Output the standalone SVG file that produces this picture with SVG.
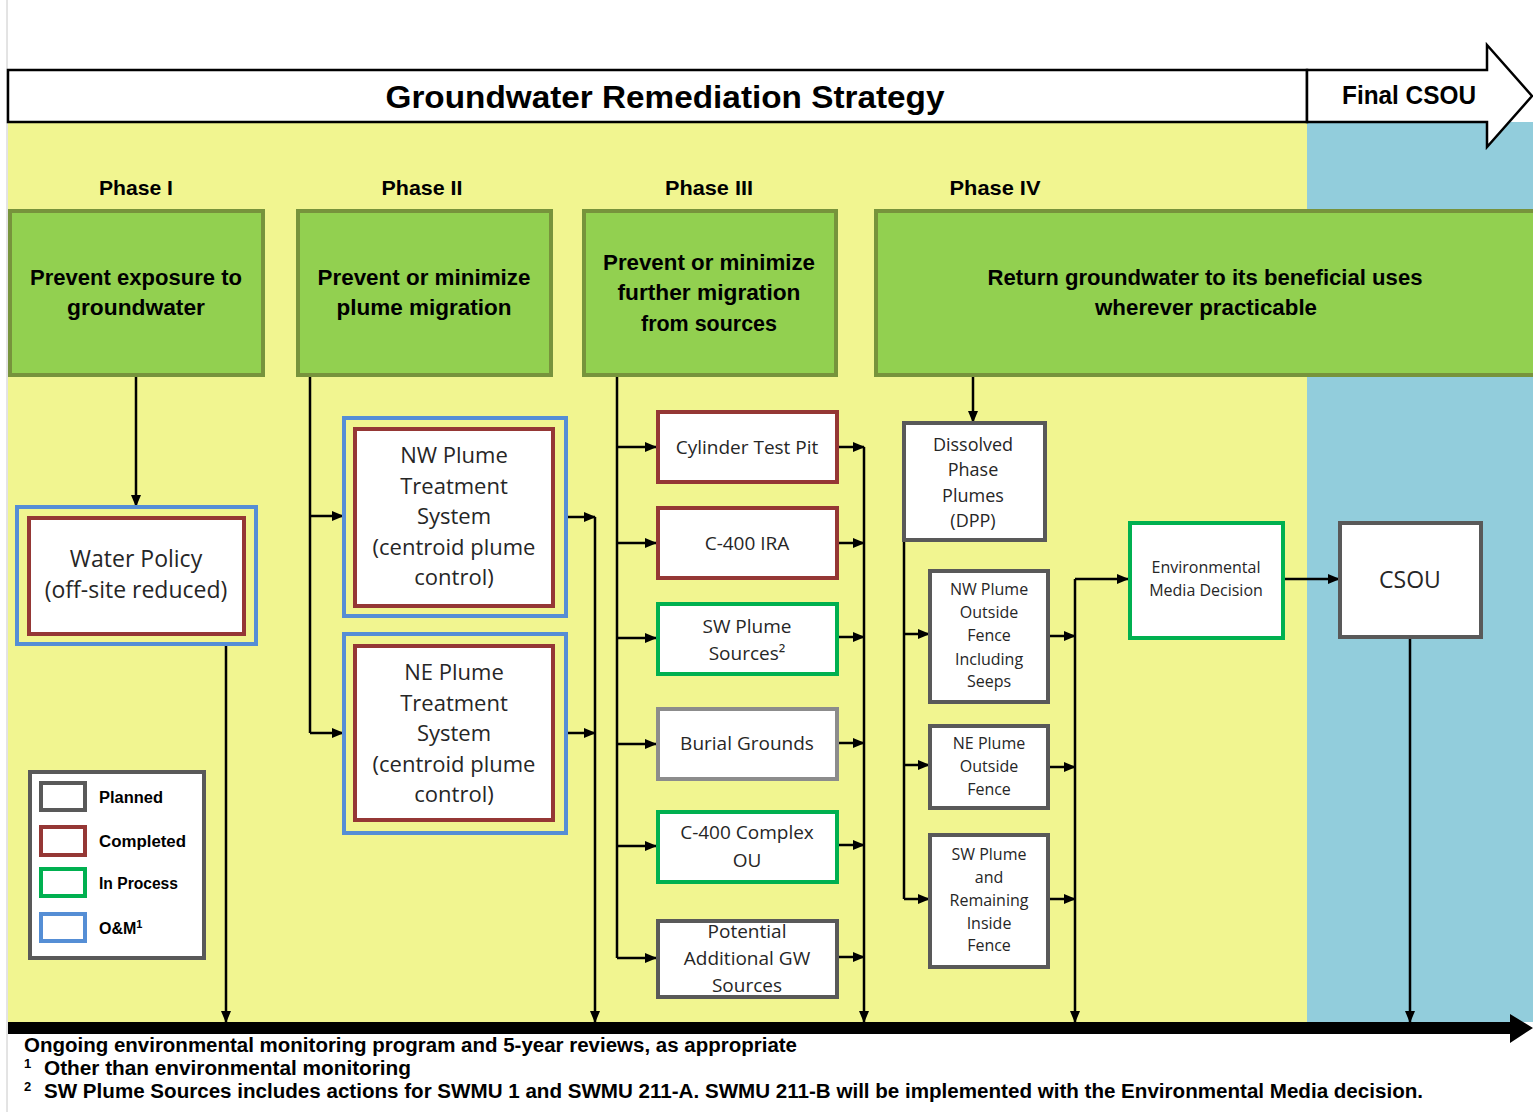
<svg xmlns="http://www.w3.org/2000/svg" width="1533" height="1112" viewBox="0 0 1533 1112">
<defs>
<style>
.h{font-family:"Liberation Sans",Arial,sans-serif;font-weight:bold;text-anchor:middle;fill:#000}
.t{font-family:"Open Sans","Liberation Sans",sans-serif;text-anchor:middle;fill:#262626}
.goal{fill:#92D050;stroke:#77933C;stroke-width:4}
.box{fill:#fff;stroke-width:4}
.red{stroke:#953735}
.grn{stroke:#00B050}
.gry{stroke:#595959}
.lgry{stroke:#8C8C8C}
.om{fill:none;stroke:#558ED5;stroke-width:4}
.c{stroke:#000;stroke-width:2.5;fill:none}
.ca{stroke:#000;stroke-width:2.5;fill:none;marker-end:url(#ah)}
.ft{font-family:"Liberation Sans",Arial,sans-serif;font-weight:bold;fill:#000}
</style>
<marker id="ah" markerUnits="userSpaceOnUse" markerWidth="12" markerHeight="12" viewBox="0 0 12 12" refX="11" refY="6" orient="auto">
<path d="M0,1 L12,6 L0,11 Z" fill="#000"/>
</marker>
</defs>
<rect x="0" y="0" width="1533" height="1112" fill="#fff"/>
<line x1="7" y1="0" x2="7" y2="1112" stroke="#C8C8C8" stroke-width="1"/>
<!-- backgrounds -->
<rect x="8" y="122" width="1299" height="900" fill="#F1F590"/>
<rect x="1307" y="122" width="226" height="900" fill="#92CDDC"/>
<!-- header -->
<g id="title">
<rect x="8" y="70" width="1299" height="52" fill="#fff" stroke="#000" stroke-width="2.5"/>
<text class="h" x="665" y="108" font-size="31" textLength="559" lengthAdjust="spacingAndGlyphs">Groundwater Remediation Strategy</text>
</g>
<g id="final-csou">
<polygon points="1307,70 1487,70 1487,45 1532,96 1487,147 1487,122 1307,122" fill="#fff" stroke="#000" stroke-width="2.5"/>
<text class="h" x="1409" y="104" font-size="25" textLength="134" lengthAdjust="spacingAndGlyphs">Final CSOU</text>
</g>
<!-- phase labels -->
<g id="phase-labels">
<text class="h" x="136" y="195" font-size="21" textLength="74" lengthAdjust="spacingAndGlyphs">Phase I</text>
<text class="h" x="422" y="195" font-size="21" textLength="81" lengthAdjust="spacingAndGlyphs">Phase II</text>
<text class="h" x="709" y="195" font-size="21" textLength="88" lengthAdjust="spacingAndGlyphs">Phase III</text>
<text class="h" x="995" y="195" font-size="21" textLength="91" lengthAdjust="spacingAndGlyphs">Phase IV</text>
</g>
<!-- goal boxes -->
<g id="goal-1">
<rect class="goal" x="10" y="211" width="253" height="164"/>
<text class="h" x="136" y="285" font-size="22" textLength="212" lengthAdjust="spacingAndGlyphs">Prevent exposure to</text>
<text class="h" x="136" y="315" font-size="22" textLength="138" lengthAdjust="spacingAndGlyphs">groundwater</text>
</g>
<g id="goal-2">
<rect class="goal" x="298" y="211" width="253" height="164"/>
<text class="h" x="424" y="285" font-size="22" textLength="213" lengthAdjust="spacingAndGlyphs">Prevent or minimize</text>
<text class="h" x="424" y="315" font-size="22" textLength="175" lengthAdjust="spacingAndGlyphs">plume migration</text>
</g>
<g id="goal-3">
<rect class="goal" x="584" y="211" width="252" height="164"/>
<text class="h" x="709" y="270" font-size="22" textLength="212" lengthAdjust="spacingAndGlyphs">Prevent or minimize</text>
<text class="h" x="709" y="300" font-size="22" textLength="183" lengthAdjust="spacingAndGlyphs">further migration</text>
<text class="h" x="709" y="331" font-size="22" textLength="136" lengthAdjust="spacingAndGlyphs">from sources</text>
</g>
<g id="goal-4">
<rect class="goal" x="876" y="211" width="670" height="164"/>
<text class="h" x="1205" y="285" font-size="22" textLength="435" lengthAdjust="spacingAndGlyphs">Return groundwater to its beneficial uses</text>
<text class="h" x="1206" y="315" font-size="22" textLength="222" lengthAdjust="spacingAndGlyphs">wherever practicable</text>
</g>
<!-- connectors -->
<g id="connectors">
<line class="ca" x1="136" y1="377" x2="136" y2="506"/>
<line class="ca" x1="226" y1="644" x2="226" y2="1022"/>
<polyline class="c" points="310,377 310,733"/>
<line class="ca" x1="310" y1="516" x2="343" y2="516"/>
<line class="ca" x1="310" y1="733" x2="343" y2="733"/>
<line class="ca" x1="566" y1="517" x2="595" y2="517"/>
<line class="ca" x1="566" y1="733" x2="595" y2="733"/>
<line class="ca" x1="595" y1="517" x2="595" y2="1022"/>
<polyline class="c" points="617,377 617,958"/>
<line class="ca" x1="617" y1="447" x2="656" y2="447"/>
<line class="ca" x1="617" y1="543" x2="656" y2="543"/>
<line class="ca" x1="617" y1="638" x2="656" y2="638"/>
<line class="ca" x1="617" y1="744" x2="656" y2="744"/>
<line class="ca" x1="617" y1="846" x2="656" y2="846"/>
<line class="ca" x1="617" y1="958" x2="656" y2="958"/>
<line class="ca" x1="839" y1="447" x2="864" y2="447"/>
<line class="ca" x1="839" y1="543" x2="864" y2="543"/>
<line class="ca" x1="839" y1="637" x2="864" y2="637"/>
<line class="ca" x1="839" y1="743" x2="864" y2="743"/>
<line class="ca" x1="839" y1="845" x2="864" y2="845"/>
<line class="ca" x1="839" y1="957" x2="864" y2="957"/>
<line class="ca" x1="864" y1="447" x2="864" y2="1022"/>
<line class="ca" x1="973" y1="377" x2="973" y2="422"/>
<polyline class="c" points="904,517 904,899"/>
<line class="ca" x1="904" y1="634" x2="929" y2="634"/>
<line class="ca" x1="904" y1="765" x2="929" y2="765"/>
<line class="ca" x1="904" y1="899" x2="929" y2="899"/>
<line class="ca" x1="1050" y1="636" x2="1075" y2="636"/>
<line class="ca" x1="1050" y1="767" x2="1075" y2="767"/>
<line class="ca" x1="1050" y1="899" x2="1075" y2="899"/>
<line class="ca" x1="1075" y1="579" x2="1075" y2="1022"/>
<line class="ca" x1="1075" y1="579" x2="1128" y2="579"/>
<line class="ca" x1="1284" y1="579" x2="1339" y2="579"/>
<line class="ca" x1="1410" y1="638" x2="1410" y2="1022"/>
</g>
<!-- Phase I node -->
<g id="water-policy">
<rect class="om" x="17" y="507" width="239" height="137"/>
<rect class="box red" x="29" y="518" width="215" height="116"/>
<text class="t" x="136" y="567" font-size="23">Water Policy</text>
<text class="t" x="136" y="598" font-size="23">(off-site reduced)</text>
</g>
<!-- Phase II nodes -->
<g id="nw-plume-ts">
<rect class="om" x="344" y="418" width="222" height="198"/>
<rect class="box red" x="355" y="429" width="198" height="177"/>
<text class="t" x="454" y="463" font-size="22">NW Plume</text>
<text class="t" x="454" y="494" font-size="22">Treatment</text>
<text class="t" x="454" y="524" font-size="22">System</text>
<text class="t" x="454" y="555" font-size="22">(centroid plume</text>
<text class="t" x="454" y="585" font-size="22">control)</text>
</g>
<g id="ne-plume-ts">
<rect class="om" x="344" y="634" width="222" height="199"/>
<rect class="box red" x="355" y="646" width="198" height="174"/>
<text class="t" x="454" y="680" font-size="22">NE Plume</text>
<text class="t" x="454" y="711" font-size="22">Treatment</text>
<text class="t" x="454" y="741" font-size="22">System</text>
<text class="t" x="454" y="772" font-size="22">(centroid plume</text>
<text class="t" x="454" y="802" font-size="22">control)</text>
</g>
<!-- Phase III nodes -->
<g id="cylinder-test-pit">
<rect class="box red" x="658" y="412" width="179" height="70"/>
<text class="t" x="747" y="454" font-size="19">Cylinder Test Pit</text>
</g>
<g id="c400-ira">
<rect class="box red" x="658" y="508" width="179" height="70"/>
<text class="t" x="747" y="550" font-size="19">C-400 IRA</text>
</g>
<g id="sw-plume-sources">
<rect class="box grn" x="658" y="604" width="179" height="70"/>
<text class="t" x="747" y="633" font-size="19">SW Plume</text>
<text class="t" x="747" y="660" font-size="19">Sources²</text>
</g>
<g id="burial-grounds">
<rect class="box lgry" x="658" y="709" width="179" height="70"/>
<text class="t" x="747" y="750" font-size="19">Burial Grounds</text>
</g>
<g id="c400-complex">
<rect class="box grn" x="658" y="812" width="179" height="70"/>
<text class="t" x="747" y="839" font-size="19">C-400 Complex</text>
<text class="t" x="747" y="867" font-size="19">OU</text>
</g>
<g id="potential-sources">
<rect class="box gry" x="658" y="921" width="179" height="76"/>
<text class="t" x="747" y="938" font-size="19">Potential</text>
<text class="t" x="747" y="965" font-size="19">Additional GW</text>
<text class="t" x="747" y="992" font-size="19">Sources</text>
</g>
<!-- Phase IV nodes -->
<g id="dpp">
<rect class="box gry" x="904" y="423" width="141" height="117"/>
<text class="t" x="973" y="451" font-size="18">Dissolved</text>
<text class="t" x="973" y="476" font-size="18">Phase</text>
<text class="t" x="973" y="502" font-size="18">Plumes</text>
<text class="t" x="973" y="527" font-size="18">(DPP)</text>
</g>
<g id="nw-outside">
<rect class="box gry" x="930" y="571" width="118" height="131"/>
<text class="t" x="989" y="595" font-size="16">NW Plume</text>
<text class="t" x="989" y="618" font-size="16">Outside</text>
<text class="t" x="989" y="641" font-size="16">Fence</text>
<text class="t" x="989" y="665" font-size="16">Including</text>
<text class="t" x="989" y="687" font-size="16">Seeps</text>
</g>
<g id="ne-outside">
<rect class="box gry" x="930" y="726" width="118" height="82"/>
<text class="t" x="989" y="749" font-size="16">NE Plume</text>
<text class="t" x="989" y="772" font-size="16">Outside</text>
<text class="t" x="989" y="795" font-size="16">Fence</text>
</g>
<g id="sw-inside">
<rect class="box gry" x="930" y="835" width="118" height="132"/>
<text class="t" x="989" y="860" font-size="16">SW Plume</text>
<text class="t" x="989" y="883" font-size="16">and</text>
<text class="t" x="989" y="906" font-size="16">Remaining</text>
<text class="t" x="989" y="929" font-size="16">Inside</text>
<text class="t" x="989" y="951" font-size="16">Fence</text>
</g>
<g id="env-media">
<rect class="box grn" x="1130" y="523" width="153" height="115"/>
<text class="t" x="1206" y="573" font-size="16">Environmental</text>
<text class="t" x="1206" y="596" font-size="16">Media Decision</text>
</g>
<g id="csou">
<rect class="box gry" x="1340" y="523" width="141" height="114"/>
<text class="t" x="1410" y="588" font-size="23">CSOU</text>
</g>
<!-- legend -->
<g id="legend">
<rect x="30" y="772" width="174" height="186" fill="#fff" stroke="#595959" stroke-width="4"/>
<rect x="41" y="783" width="44" height="27" fill="#fff" stroke="#595959" stroke-width="4"/>
<rect x="41" y="827" width="44" height="28" fill="#fff" stroke="#953735" stroke-width="4"/>
<rect x="41" y="869" width="44" height="27" fill="#fff" stroke="#00B050" stroke-width="4"/>
<rect x="41" y="914" width="44" height="27" fill="#fff" stroke="#558ED5" stroke-width="4"/>
<text class="ft" x="99" y="803" font-size="16" textLength="64" lengthAdjust="spacingAndGlyphs">Planned</text>
<text class="ft" x="99" y="847" font-size="16" textLength="87" lengthAdjust="spacingAndGlyphs">Completed</text>
<text class="ft" x="99" y="889" font-size="16" textLength="79" lengthAdjust="spacingAndGlyphs">In Process</text>
<text class="ft" x="99" y="934" font-size="16">O&amp;M<tspan font-size="11" dy="-6">1</tspan></text>
</g>
<!-- monitoring timeline -->
<g id="monitoring">
<polygon points="8,1022 1510,1022 1510,1014 1533,1028 1510,1043 1510,1034 8,1034" fill="#000"/>
<text class="ft" x="24" y="1052" font-size="20" textLength="773" lengthAdjust="spacingAndGlyphs">Ongoing environmental monitoring program and 5-year reviews, as appropriate</text>
</g>
<g id="footnotes">
<text class="ft" x="24" y="1068" font-size="13">1</text>
<text class="ft" x="44" y="1075" font-size="20" textLength="367" lengthAdjust="spacingAndGlyphs">Other than environmental monitoring</text>
<text class="ft" x="24" y="1091" font-size="13">2</text>
<text class="ft" x="44" y="1098" font-size="20" textLength="1379" lengthAdjust="spacingAndGlyphs">SW Plume Sources includes actions for SWMU 1 and SWMU 211-A. SWMU 211-B will be implemented with the Environmental Media decision.</text>
</g>
</svg>
